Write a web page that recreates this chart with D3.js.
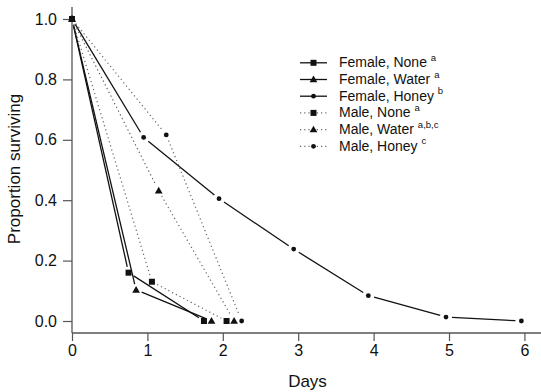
<!DOCTYPE html>
<html>
<head>
<meta charset="utf-8">
<script src="https://cdn.jsdelivr.net/npm/d3@7"></script>
<style>
  body { margin: 0; background: #fff; }
  svg { display: block; font-family: "Liberation Sans", Arial, Helvetica, sans-serif; }
</style>
</head>
<body>
<svg id="chart" width="541" height="392"></svg>
<script>
// ---- data ----
const femaleNoneX  = [0, 0.75, 1.75];
const femaleNoneY  = [1.0, 0.16, 0.0];
const femaleWaterX = [0, 0.85, 1.85];
const femaleWaterY = [1.0, 0.103, 0.0];
const femaleHoneyX = [0, 0.95, 1.95, 2.94, 3.93, 4.96, 5.96];
const femaleHoneyY = [1.0, 0.608, 0.405, 0.238, 0.084, 0.013, 0.0];
const maleNoneX    = [0, 1.06, 2.05];
const maleNoneY    = [1.0, 0.13, 0.0];
const maleWaterX   = [0, 1.15, 2.15];
const maleWaterY   = [1.0, 0.431, 0.0];
const maleHoneyX   = [0, 1.25, 2.25];
const maleHoneyY   = [1.0, 0.616, 0.0];

const seriesNames  = ["Female, None", "Female, Water", "Female, Honey", "Male, None", "Male, Water", "Male, Honey"];
const seriesSup    = ["a", "a", "b", "a", "a,b,c", "c"];
const seriesShape  = ["square", "triangle", "circle", "square", "triangle", "circle"];
const seriesDotted = [false, false, false, true, true, true];
const seriesX = [femaleNoneX, femaleWaterX, femaleHoneyX, maleNoneX, maleWaterX, maleHoneyX];
const seriesY = [femaleNoneY, femaleWaterY, femaleHoneyY, maleNoneY, maleWaterY, maleHoneyY];

const xTicks = [0, 1, 2, 3, 4, 5, 6];
const yTicks = [0.0, 0.2, 0.4, 0.6, 0.8, 1.0];
const xTitle = "Days";
const yTitle = "Proportion surviving";

// ---- layout ----
const svg = d3.select("#chart");
const x = d3.scaleLinear().domain([0, 6]).range([72, 524.4]);
const y = d3.scaleLinear().domain([0, 1]).range([321, 19]);
const axisColor = "#555";
const xAxisY = 333;
const gapPx = 6;

// axes
const gx = svg.append("g").attr("transform", `translate(0,${xAxisY})`)
  .call(d3.axisBottom(x).tickValues(xTicks).tickFormat(d3.format("d")).tickSize(8).tickPadding(4));
gx.select(".domain").remove();
svg.append("line").attr("x1", 72).attr("x2", 541).attr("y1", xAxisY).attr("y2", xAxisY)
  .attr("stroke", axisColor).attr("stroke-width", 1.3);

const gy = svg.append("g").attr("transform", "translate(72,0)")
  .call(d3.axisLeft(y).tickValues(yTicks).tickFormat(d3.format(".1f")).tickSize(9).tickPadding(6));
gy.select(".domain").remove();
svg.append("line").attr("x1", 72).attr("x2", 72).attr("y1", 7).attr("y2", xAxisY)
  .attr("stroke", axisColor).attr("stroke-width", 1.3);

[gx, gy].forEach(g => {
  g.selectAll(".tick line").attr("stroke", axisColor).attr("stroke-width", 1.2);
  g.selectAll(".tick text").attr("fill", "#111").style("font-size", "16px")
    .style("font-family", "'Liberation Sans', Arial, sans-serif");
});

// titles
svg.append("text").attr("x", 307.5).attr("y", 387).attr("text-anchor", "middle")
  .style("font-size", "17px").attr("fill", "#111").text(xTitle);
svg.append("text").attr("transform", "translate(20,169) rotate(-90)").attr("text-anchor", "middle")
  .style("font-size", "17px").attr("fill", "#111").text(yTitle);

// markers
function drawMarker(g, shape, cx, cy) {
  if (shape === "square") {
    g.append("rect").attr("x", cx - 3).attr("y", cy - 3).attr("width", 6).attr("height", 6).attr("fill", "#111");
  } else if (shape === "triangle") {
    const s = d3.symbol().type(d3.symbolTriangle).size(26);
    g.append("path").attr("d", s()).attr("transform", `translate(${cx},${cy + 0.5})`).attr("fill", "#111");
  } else {
    g.append("circle").attr("cx", cx).attr("cy", cy).attr("r", 2.4).attr("fill", "#111");
  }
}

function lineStyle(sel, dotted) {
  if (dotted) {
    sel.attr("stroke", "#666").attr("stroke-width", 1.2).attr("stroke-dasharray", "1.2,3");
  } else {
    sel.attr("stroke", "#111").attr("stroke-width", 1.3);
  }
  return sel;
}

// series: lines with gaps around points (type "b")
const plot = svg.append("g");
seriesNames.forEach((name, i) => {
  const xs = seriesX[i], ys = seriesY[i];
  const g = plot.append("g");
  for (let k = 0; k < xs.length - 1; k++) {
    const x1 = x(xs[k]), y1 = y(ys[k]), x2 = x(xs[k + 1]), y2 = y(ys[k + 1]);
    const len = Math.hypot(x2 - x1, y2 - y1);
    if (len <= 2 * gapPx) continue;
    const ux = (x2 - x1) / len, uy = (y2 - y1) / len;
    lineStyle(g.append("line")
      .attr("x1", x1 + ux * gapPx).attr("y1", y1 + uy * gapPx)
      .attr("x2", x2 - ux * gapPx).attr("y2", y2 - uy * gapPx), seriesDotted[i]);
  }
  xs.forEach((d, k) => drawMarker(g, seriesShape[i], x(d), y(ys[k])));
});

// legend
const legend = svg.append("g");
const legY0 = 67.3, legStep = 16.7;
seriesNames.forEach((name, i) => {
  const by = legY0 + i * legStep;
  const cy = by - 4.5;
  lineStyle(legend.append("line").attr("x1", 300).attr("x2", 327).attr("y1", cy).attr("y2", cy), seriesDotted[i]);
  drawMarker(legend, seriesShape[i], 313.5, cy);
  const t = legend.append("text").attr("x", 339).attr("y", by).style("font-size", "14px").attr("fill", "#111");
  t.append("tspan").text(name + " ");
  t.append("tspan").attr("dy", -6.5).style("font-size", "9.5px").text(seriesSup[i]);
});
</script>
</body>
</html>
